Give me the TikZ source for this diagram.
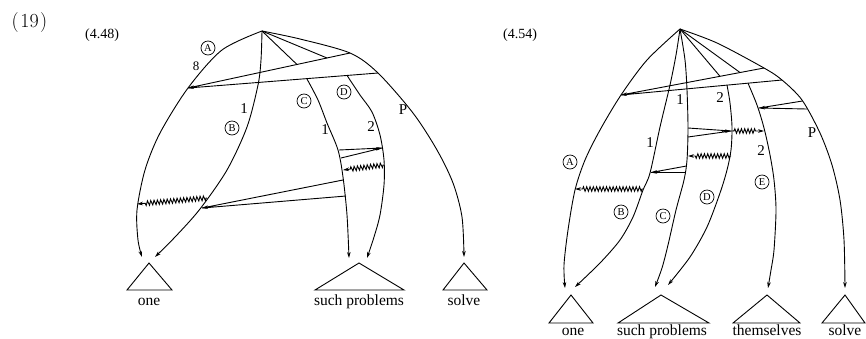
\documentclass[tikz,border=0pt]{standalone}
\usepackage{fontspec}
\newfontfamily\tms{Liberation Serif}
\usetikzlibrary{arrows.meta,decorations.pathmorphing,calc}
\begin{document}
\begin{tikzpicture}[x=1pt,y=-1pt,
  edge/.style={line width=0.9pt},
  arr/.style={-{Stealth[length=6pt,width=3.6pt]}},
  wig/.style={decorate,decoration={zigzag,segment length=3.3pt,amplitude=2.3pt,pre length=1pt,post length=7pt}},
  circ/.style={circle,draw,line width=0.7pt,inner sep=0pt,minimum size=14pt,font=\tms\fontsize{10.5}{10.5}\selectfont},
  num/.style={font=\tms\fontsize{15}{15}\selectfont,inner sep=0pt},
  word/.style={font=\tms\fontsize{15.5}{16}\selectfont,inner sep=0pt,anchor=base},
  tri/.style={line width=0.9pt}]
\useasboundingbox (0,0) rectangle (866,338);

% ---------- titles ----------
\node[font=\fontsize{20}{20}\selectfont,inner sep=0pt] (t19) at (29.5,23) {(\kern1.5pt19\kern1.5pt)};
\node[font=\tms\fontsize{14}{14}\selectfont,inner sep=0pt] (t448) at (102,35) {(4.48)};
\node[font=\tms\fontsize{14}{14}\selectfont,inner sep=0pt] (t454) at (520,35) {(4.54)};

% ================= LEFT (4.48) =================
\coordinate (La) at (262,31);
\coordinate (LAe) at (142,257);
\coordinate (LBe) at (155,257);
\coordinate (LCe) at (349,258);
\coordinate (LDe) at (367,258);
\coordinate (LPe) at (464,257);
\coordinate (LCu) at (297,64.5);
\coordinate (LDu) at (327,58);
\coordinate (LCl) at (307,79);
\coordinate (LDl) at (347,75.4);
\coordinate (LP1) at (350,53);
\coordinate (LP2) at (378,73);
\coordinate (LWt) at (188,88);

% arcs
\draw[edge,arr] plot[smooth] coordinates {(La) (222,50) (LWt) (160,133) (145,170) (137,210) (138,240) (LAe)};
\draw[edge,arr] plot[smooth] coordinates {(La) (261,60) (258,85) (247,127) (227,170) (200,209) (176,236) (LBe)};
\draw[edge] (La) -- (LCu);
\draw[edge,arr] plot[smooth] coordinates {(LCl) (318,100) (327,123) (338,150) (343,177) (347,215) (LCe)};
\draw[edge] (La) -- (LDu);
\draw[edge,arr] plot[smooth] coordinates {(LDl) (360,95) (372,112) (380,135) (384,160) (384,185) (380,215) (374,237) (LDe)};
\draw[edge,arr] plot[smooth] coordinates {(La) (300,39) (LP1) (LP2) (413,113) (437,150) (453,183) (462,217) (LPe)};

% big top wedge P -> A
\draw[edge] (LP1) -- (LWt) -- (LP2);
\draw[edge,arr] ($(LWt)!9pt!($(LP1)!0.5!(LP2)$)$) -- (LWt);

% small wedge C -> D
\coordinate (Lw1a) at (339,150);
\coordinate (Lw1b) at (341,158);
\coordinate (Lw1t) at (382,148);
\draw[edge] (Lw1a) -- (Lw1t) -- (Lw1b);
\draw[edge,arr] ($(Lw1t)!9pt!($(Lw1a)!0.5!(Lw1b)$)$) -- (Lw1t);

% wiggle D -> C
\coordinate (Lz1s) at (384,165);
\coordinate (Lz1e) at (343,170);
\draw[edge,arr,wig] (Lz1s) -- (Lz1e);

% lower wedge C -> B
\coordinate (Lw2a) at (343,180);
\coordinate (Lw2b) at (346,196);
\coordinate (Lw2t) at (202,208);
\draw[edge] (Lw2a) -- (Lw2t) -- (Lw2b);
\draw[edge,arr] ($(Lw2t)!9pt!($(Lw2a)!0.5!(Lw2b)$)$) -- (Lw2t);

% wiggle B -> A
\coordinate (Lz2s) at (207,198);
\coordinate (Lz2e) at (137,204);
\draw[edge,arr,wig] (Lz2s) -- (Lz2e);

% labels
\node[circ] (LcA) at (208,48) {A};
\node[num,font=\tms\fontsize{13}{13}\selectfont] (L8) at (196,66) {8};
\node[num] (L1b) at (244,109) {1};
\node[circ] (LcB) at (232,128) {B};
\node[circ] (LcC) at (304,101) {C};
\node[num] (L1c) at (325,130) {1};
\node[circ] (LcD) at (344,92) {D};
\node[num] (L2d) at (371,127) {2};
\node[num] (LP) at (403,110) {P};

% triangles
\coordinate (LT1) at (149,263);
\coordinate (LT2) at (359,263);
\coordinate (LT3) at (464,263);
\draw[tri] (LT1) -- (127,290) -- (172,290) -- cycle;
\draw[tri] (LT2) -- (315,290) -- (404,290) -- cycle;
\draw[tri] (LT3) -- (443,290) -- (487,290) -- cycle;
\node[word] (Lone) at (149,305) {one};
\node[word] (Lsuch) at (359,305) {such problems};
\node[word] (Lsolve) at (464,305) {solve};

% ================= RIGHT (4.54) =================
\coordinate (Ra) at (680,29);
\coordinate (RAe) at (565,288);
\coordinate (RBe) at (575,287);
\coordinate (RCe) at (655,287);
\coordinate (RDe) at (668,285);
\coordinate (REe) at (768,288);
\coordinate (RPe) at (845,288);
\coordinate (RP1) at (764,68);
\coordinate (RP2) at (782,80);
\coordinate (RWt) at (621,95);
\coordinate (RDu) at (720,76.3);
\coordinate (RDl) at (727,85.1);
\coordinate (REu) at (740,72.5);
\coordinate (REl) at (748,83.2);

\draw[edge,arr] plot[smooth] coordinates {(Ra) (647,60) (RWt) (600,130) (585,160) (575,190) (568,230) (564,265) (RAe)};
\draw[edge,arr] plot[smooth] coordinates {(Ra) (676,55) (670,85) (660,127) (650,173) (643,190) (633,217) (620,240) (600,263) (RBe)};
\draw[edge,arr] plot[smooth] coordinates {(Ra) (685,60) (687,90) (688,128) (687,160) (684,180) (676,210) (668,245) (662,268) (RCe)};
\draw[edge] (Ra) -- (RDu);
\draw[edge,arr] plot[smooth] coordinates {(RDl) (730,103) (732,127) (731,150) (727,170) (720,193) (707,227) (690,257) (RDe)};
\draw[edge] (Ra) -- (REu);
\draw[edge,arr] plot[smooth] coordinates {(REl) (757,105) (764,128) (770,155) (774,180) (776,210) (774,250) (771,270) (REe)};
\draw[edge,arr] plot[smooth] coordinates {(Ra) (717,43) (RP1) (RP2) (802,100) (820,133) (832,165) (840,200) (844,240) (RPe)};

% big top wedge P -> A
\draw[edge] (RP1) -- (RWt) -- (RP2);
\draw[edge,arr] ($(RWt)!9pt!($(RP1)!0.5!(RP2)$)$) -- (RWt);

% small wedge P -> E
\coordinate (Rw1a) at (802.5,101);
\coordinate (Rw1b) at (807,109);
\coordinate (Rw1t) at (759,108);
\draw[edge] (Rw1a) -- (Rw1t) -- (Rw1b);
\draw[edge,arr] ($(Rw1t)!9pt!($(Rw1a)!0.5!(Rw1b)$)$) -- (Rw1t);

% wedge C -> D, then wiggle D -> E
\coordinate (Rw2a) at (688,128);
\coordinate (Rw2b) at (688,137);
\coordinate (Rw2t) at (731,131);
\draw[edge] (Rw2a) -- (Rw2t) -- (Rw2b);
\draw[edge,arr] ($(Rw2t)!9pt!($(Rw2a)!0.5!(Rw2b)$)$) -- (Rw2t);
\coordinate (Rz1s) at (733,131);
\coordinate (Rz1e) at (764,131);
\draw[edge,arr,wig] (Rz1s) -- (Rz1e);

% wiggle D -> C
\coordinate (Rz2s) at (731,156);
\coordinate (Rz2e) at (688,156);
\draw[edge,arr,wig] (Rz2s) -- (Rz2e);

% small wedge C -> B
\coordinate (Rw3a) at (686.5,166);
\coordinate (Rw3b) at (685.5,172.5);
\coordinate (Rw3t) at (651,172.5);
\draw[edge] (Rw3a) -- (Rw3t) -- (Rw3b);
\draw[edge,arr] ($(Rw3t)!9pt!($(Rw3a)!0.5!(Rw3b)$)$) -- (Rw3t);

% wiggle B -> A
\coordinate (Rz3s) at (643,189);
\coordinate (Rz3e) at (575,189);
\draw[edge,arr,wig] (Rz3s) -- (Rz3e);

% labels
\node[num] (R1a) at (680,100) {1};
\node[num] (R2a) at (720,98) {2};
\node[num] (R1b) at (650,143) {1};
\node[num] (R2b) at (761,151) {2};
\node[num] (RP) at (812,133) {P};
\node[circ] (RcA) at (570,162) {A};
\node[circ] (RcB) at (621,212) {B};
\node[circ] (RcC) at (663,216) {C};
\node[circ] (RcD) at (707,197) {D};
\node[circ] (RcE) at (762,182) {E};

% triangles
\coordinate (RT1) at (571,295);
\coordinate (RT2) at (661,295);
\coordinate (RT3) at (767,295);
\coordinate (RT4) at (845,295);
\draw[tri] (RT1) -- (549,323) -- (593,323) -- cycle;
\draw[tri] (RT2) -- (618,323) -- (709,323) -- cycle;
\draw[tri] (RT3) -- (733,323) -- (800,323) -- cycle;
\draw[tri] (RT4) -- (822,323) -- (865,323) -- cycle;
\node[word] (Rone) at (573,335) {one};
\node[word] (Rsuch) at (662,335) {such problems};
\node[word] (Rthem) at (767,335) {themselves};
\node[word] (Rsolve) at (845,335) {solve};
\end{tikzpicture}
\end{document}
